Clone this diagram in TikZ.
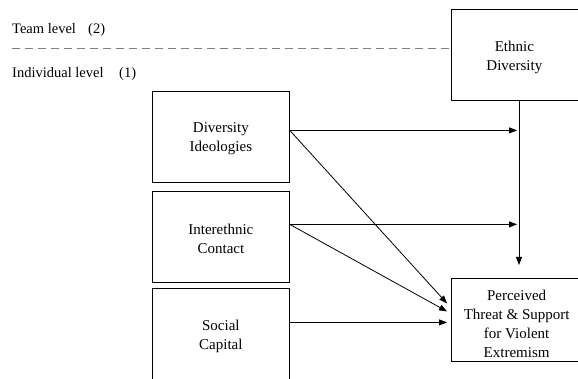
\documentclass[tikz,border=0pt]{standalone}
\usepackage{fontspec}
\setmainfont{Liberation Serif}
\usetikzlibrary{arrows.meta,calc}
\begin{document}
\begin{tikzpicture}[x=1pt,y=-1pt,
  box/.style={draw,line width=0.8pt,rectangle,inner sep=0pt,anchor=north west},
  txt/.style={inner sep=0pt,align=center,font=\fontsize{15}{19}\selectfont},
  lbl/.style={anchor=base west,inner sep=0pt,font=\fontsize{14.5}{19}\selectfont},
  arr/.style={line width=0.8pt,-{Triangle[length=8pt,width=6pt]}},
  ln/.style={line width=0.8pt}]
\useasboundingbox (0,0) rectangle (578,379);
\node[lbl] (team) at (12,34) {Team level};
\node[lbl] (team2) at (88,34) {(2)};
\node[lbl] (ind) at (12,78) {Individual level};
\node[lbl] (ind1) at (119,78) {(1)};
\node[box,minimum width=131pt,minimum height=91pt] (eth) at (451,9) {};
\node[txt] (etht) at ([xshift=-2.5pt,yshift=-3pt]eth.center) {Ethnic\\Diversity};
\coordinate (dl) at (12,48);
\draw[ln,dashed,dash pattern=on 8pt off 5pt,gray] (dl) -- (dl -| eth.west);
\node[box,minimum width=137pt,minimum height=91pt] (div) at (152,91) {};
\node[txt] (divt) at ([yshift=-2pt]div.center) {Diversity\\Ideologies};
\node[box,minimum width=137pt,minimum height=91pt] (int) at (152,191) {};
\node[txt] (intt) at ([yshift=-2pt]int.center) {Interethnic\\Contact};
\node[box,minimum width=137pt,minimum height=96pt] (soc) at (152,288) {};
\node[txt] (soct) at ([yshift=0pt]soc.center) {Social\\Capital};
\node[box,minimum width=126.5pt,minimum height=83pt] (per) at (451,278) {};
\node[txt] (pert) at ([xshift=2pt,yshift=-4pt]per.center) {Perceived\\Threat \& Support\\for Violent\\Extremism};
\coordinate (vtop) at (519,100);
\coordinate (vbot) at ([yshift=13pt]per.north -| vtop);
\draw[arr] (eth.south -| vtop) -- (vbot);
\coordinate (d0) at ([yshift=6.5pt]div.east);
\coordinate (i0) at ([yshift=12.5pt]int.east);
\coordinate (s0) at ([yshift=14pt]soc.east);
\draw[arr] (d0) -- ([xshift=-2pt]d0 -| vtop);
\draw[arr] (i0) -- ([xshift=-2pt]i0 -| vtop);
\draw[arr] (s0) -- ([xshift=-4pt]s0 -| per.west);
\draw[arr] (d0) -- ([xshift=-4pt,yshift=16.5pt]per.west);
\draw[arr] (i0) -- ([xshift=-4pt,yshift=8.5pt]per.west);
\end{tikzpicture}
\end{document}
